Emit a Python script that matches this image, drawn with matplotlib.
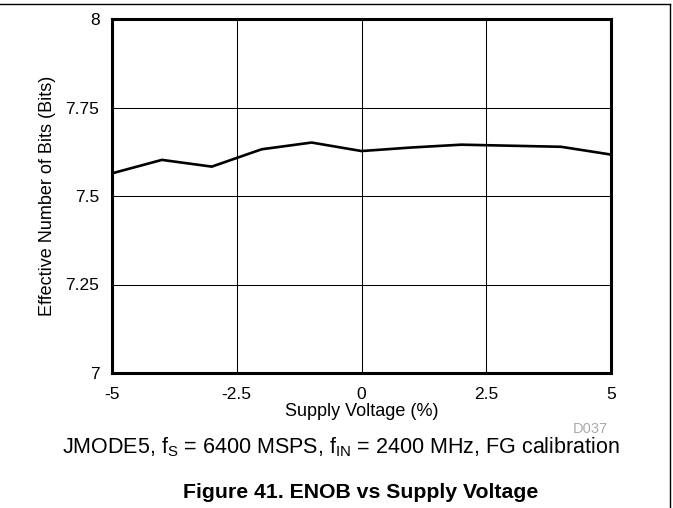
import numpy as np
import matplotlib
matplotlib.use("Agg")
import matplotlib.pyplot as plt
from matplotlib.lines import Line2D

plt.rcParams['font.family'] = ['Liberation Sans', 'DejaVu Sans']
plt.rcParams['mathtext.fontset'] = 'custom'
plt.rcParams['mathtext.rm'] = 'Liberation Sans'
plt.rcParams['mathtext.it'] = 'Liberation Sans'

# supply voltage deviation (%) and measured ENOB
supply_pct = [-5, -4, -3, -2, -1, 0, 1, 2, 3, 4, 5]
enob = [7.564, 7.602, 7.583, 7.632, 7.651, 7.627, 7.637, 7.645, 7.642, 7.639, 7.617]

x_ticks = [-5, -2.5, 0, 2.5, 5]
x_ticklabels = ['-5', '-2.5', '0', '2.5', '5']
y_ticks = [7, 7.25, 7.5, 7.75, 8]
y_ticklabels = ['7', '7.25', '7.5', '7.75', '8']

fig = plt.figure(figsize=(6.73, 5.08), dpi=100)
ax = fig.add_axes([112/673, 1 - 373/508, 499/673, 354/508])

ax.plot(supply_pct, enob, color='black', lw=1.9, solid_joinstyle='miter')

ax.set_xlim(-5, 5)
ax.set_ylim(7, 8)
ax.set_xticks(x_ticks)
ax.set_xticklabels(x_ticklabels)
ax.set_yticks(y_ticks)
ax.set_yticklabels(y_ticklabels)
ax.tick_params(length=0, labelsize=12.5)
ax.tick_params(axis='x', pad=10)
ax.tick_params(axis='y', pad=9)
ax.grid(True, color='black', lw=0.75)
ax.set_axisbelow(True)
for sp in ax.spines.values():
    sp.set_linewidth(2.2)

ax.set_xlabel('Supply Voltage (%)', fontsize=13, labelpad=1)
ax.set_ylabel('Effective Number of Bits (Bits)', fontsize=13, labelpad=7)

fig.text(590/673, 1 - 429/508, 'D037', fontsize=10.5, color='#aaaaaa',
         ha='center', va='center')
fig.text(341/673, 1 - 447/508,
         r'JMODE5, f$_\mathregular{S}$ = 6400 MSPS, f$_\mathregular{IN}$ = 2400 MHz, FG calibration',
         fontsize=15.5, ha='center', va='center')
fig.text(361/673, 1 - 493/508, 'Figure 41. ENOB vs Supply Voltage',
         fontsize=15.3, fontweight='bold', ha='center', va='center')

# page frame lines
fig.add_artist(Line2D([0, 670/673], [1 - 4/508, 1 - 4/508], color='black', lw=1,
                      transform=fig.transFigure))
fig.add_artist(Line2D([670/673, 670/673], [1 - 4/508, 0], color='black', lw=1,
                      transform=fig.transFigure))

fig.savefig('out.png', dpi=100)
